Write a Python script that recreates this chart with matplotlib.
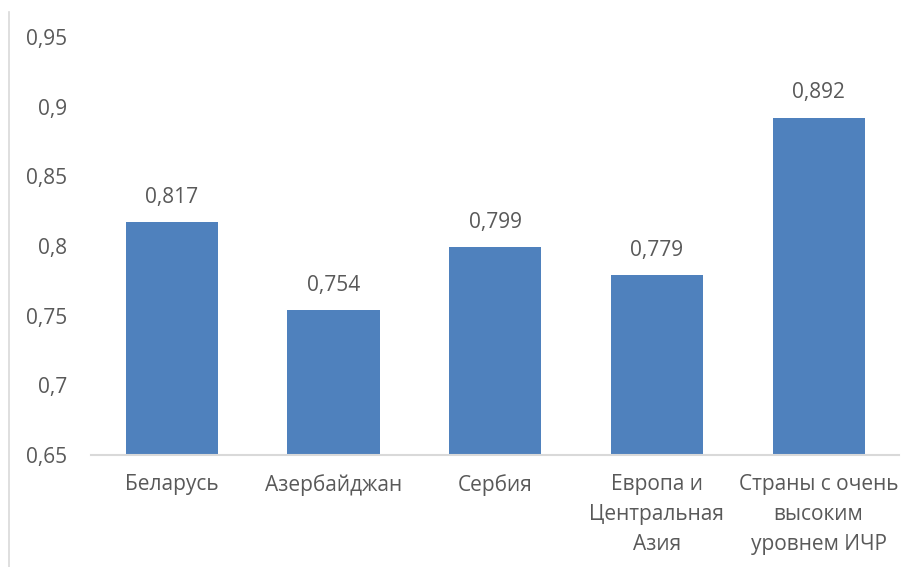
import numpy as np
import matplotlib
matplotlib.use('Agg')
import matplotlib.pyplot as plt
from matplotlib.lines import Line2D

plt.rcParams['font.family'] = ['Open Sans', 'DejaVu Sans']

# данные
categories = ['Беларусь', 'Азербайджан', 'Сербия', 'Европа и\nЦентральная\nАзия',
              'Страны с очень\nвысоким\nуровнем ИЧР']
values = [0.817, 0.754, 0.799, 0.779, 0.892]
yticks = [0.65, 0.7, 0.75, 0.8, 0.85, 0.9, 0.95]

text_color = '#595959'
bar_color = '#4F81BD'

fig = plt.figure(figsize=(9.15, 5.67), dpi=100)
ax = fig.add_axes([0.0995, 0.1975, 0.8835, 0.7372])

x = np.arange(len(categories))
ax.bar(x, values, width=0.57, color=bar_color, bottom=0)

for xi, v in zip(x, values):
    ax.annotate(f'{v:.3f}'.replace('.', ','), (xi, v), xytext=(0, 18),
                textcoords='offset points', ha='center', va='center',
                fontsize=15, color=text_color)

ax.set_xlim(-0.5, len(categories) - 0.5)
ax.set_ylim(0.65, 0.95)
ax.set_yticks(yticks)
ax.set_yticklabels([f'{t:g}'.replace('.', ',') for t in yticks])
ax.set_xticks(x)
ax.set_xticklabels(categories, linespacing=1.55)

ax.tick_params(axis='y', length=0, pad=17, labelsize=15, labelcolor=text_color)
ax.tick_params(axis='x', length=0, pad=14, labelsize=15, labelcolor=text_color)

for s in ['top', 'right', 'left']:
    ax.spines[s].set_visible(False)
ax.spines['bottom'].set_color('#d9d9d9')
ax.spines['bottom'].set_linewidth(1.5)

# рамка слева
fig.add_artist(Line2D([9 / 915, 9 / 915], [0, 1 - 12 / 567], color='#d9d9d9', lw=1.2))

fig.savefig('out.png', dpi=100)
